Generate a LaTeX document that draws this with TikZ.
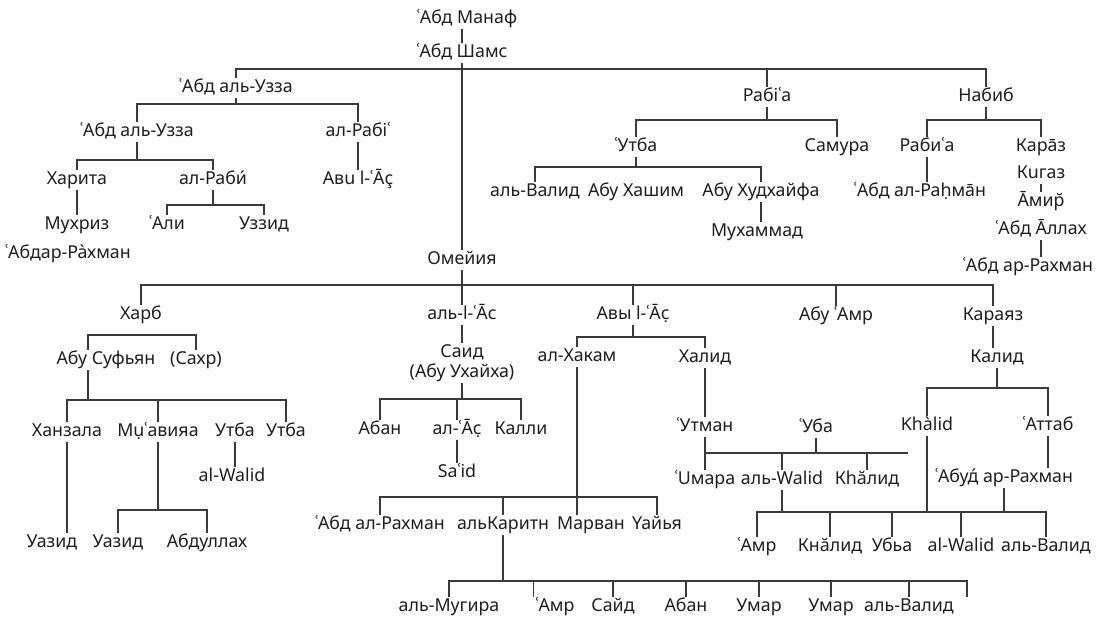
\documentclass[tikz,border=0pt]{standalone}
\usepackage{fontspec}
\setmainfont{Noto Sans}
\usetikzlibrary{positioning}
\definecolor{ink}{HTML}{1E1E1E}
\definecolor{wire}{HTML}{3A3A3A}

\begin{document}
\begin{tikzpicture}[x=1pt,y=-1pt,font=\fontsize{17.8}{20}\selectfont,
  every node/.style={text=ink,inner sep=1.5pt,text height=13pt,text depth=4pt},
  link/.style={draw=wire,line width=1.1pt}]
\useasboundingbox (0,0) rectangle (1110,621);

\node (manaf) at (467,19) {ʿАбд Манаф};
\node (shams) at (462,53) {ʿАбд Шамс};
\node (uzzaA) at (236,88) {ʿАбд аль-Узза};
\node (uzzaB) at (137,132) {ʿАбд аль-Узза};
\node (rabiA) at (358,132) {ал-Рабіʿ};
\node (abuAs) at (358,180) {Авu l-ʿĀç};
\node (harita) at (77,180) {Харита};
\node (rabiB) at (213,180) {ал-Раби́};
\node (muhriz) at (77,225) {Мухриз};
\node (ali) at (167,225) {ʿАли};
\node (uzzid) at (264,225) {Уззид};
\node (abdar) at (68,254) {ʿАбдар-Ра̀хман};

\node (rabia) at (767,97) {Рабіʿа};
\node (nabib) at (986,97) {Набиб};
\node (utba) at (636,147) {ʿУтба};
\node (samura) at (837,147) {Самура};
\node (rabiC) at (927,147) {Рабиʿа};
\node (karaz) at (1041,147) {Кара̄з};
\node (walidA) at (535,192) {аль-Валид};
\node (hashim) at (636,192) {Абу Хашим};
\node (hudh) at (761,192) {Абу Худхайфа};
\node (muham) at (757,232) {Мухаммад};
\node (rahmanA) at (920,192) {ʿАбд ал-Раḥма̄н};
\node (kugaz) at (1041,174) {Кuгаз};
\node (amir) at (1041,202) {А̄мир̆};
\node (allah) at (1041,230) {ʿАбд А̄ллах};
\node (rahmanB) at (1028,267) {ʿАбд ар-Рахман};

\node (omeya) at (462,260) {Омейия};
\node (harb) at (141,315) {Харб};
\node (alAs) at (462,315) {аль-l-ʿĀс};
\node (avy) at (633,315) {Авы l-ʿĀc̣};
\node (abuamr) at (836,316) {Абу ʿАмр};
\node (karayaz) at (993,316) {Караяз};
\node (sufyan) at (106,360) {Абу Суфьян};
\node (sakhr) at (196,360) {(Сахр)};
\node (said) at (462,363) [align=center,text height=,text depth=] {Саид\\(Абу Ухайха)};
\node (hakam) at (577,357) {ал-Хакам};
\node (khalidA) at (705,358) {Халид};
\node (kalid) at (997,358) {Калид};

\node (hanz) at (67,432) {Ханзала};
\node (muaw) at (158,432) {Мụʿавияа};
\node (utbaB) at (235,432) {Утба};
\node (utbaC) at (286,432) {Утба};
\node (walidB) at (232,477) {al-Walid};
\node (uazidA) at (52,543) {Уазид};
\node (uazidB) at (118,543) {Уазид};
\node (abdul) at (207,543) {Абдуллах};
\node (aban) at (380,430) {Абан};
\node (alAsB) at (457,430) {ал-ʿĀc̣};
\node (kalli) at (521,430) {Калли};
\node (sayidB) at (457,473) {Saʿid};
\node (uthman) at (705,427) {ʿУтман};
\node (uba) at (816,428) {ʿУба};
\node (khalidB) at (927,426) {Khàlid};
\node (attab) at (1048,426) {ʿАттаб};
\node (umara) at (705,480) {ʿUмара};
\node (walidUm) at (782,480) {аль-Walid};
\node (khalidD) at (867,480) {Кhӑлид};
\node (abudr) at (1004,478) {ʿАбуд́ ар-Рахман};

\node (abdrahC) at (380,525) {ʿАбд ал-Рахман};
\node (karitn) at (503,525) {альКаритн};
\node (marvan) at (591,525) {Марван};
\node (uayya) at (657,525) {Үайья};
\node (amrB) at (757,547) {ʿАмр};
\node (khalidC) at (830,547) {Кнăлид};
\node (ubba) at (892,547) {Уб{\bfseries ь}а};
\node (walidD) at (961,547) {al-Walid};
\node (walidE) at (1046,547) {аль-Валид};
\node (mugira) at (449,607) {аль-Мугира};
\node (amrA) at (555,607) {ʿАмр};
\node (saydA) at (613,607) {Сайд};
\node (abanB) at (686,607) {Абан};
\node (umarA) at (759,607) {Умар};
\node (umarB) at (831,607) {Умар};
\node (walidC) at (909,607) {аль-Валид};

\coordinate (sufN) at ([xshift=-18pt]sufyan.north);
\coordinate (sufS) at ([xshift=-18pt]sufyan.south);
\coordinate (barEnd) at (908,453);
\coordinate (tail) at (967,597);

\draw[link] (shams.north) -- (shams.north |- manaf.south);
\draw[link] (shams.south) -- (shams.south |- omeya.north);
\draw[link] (uzzaA.north) |- (nabib.north |- 0,69) -- (nabib.north);
\draw[link] (rabia.north) -- (rabia.north |- 0,69);
\draw[link] (uzzaA.south) -- (uzzaA.south |- 0,104);
\draw[link] (uzzaB.north) |- (rabiA.north |- 0,104) -- (rabiA.north);
\draw[link] (rabiA) -- (abuAs);
\draw[link] (uzzaB.south) -- (uzzaB.south |- 0,160);
\draw[link] (harita.north) |- (rabiB.north |- 0,160) -- (rabiB.north);
\draw[link] (harita) -- (muhriz);
\draw[link] (rabiB.south) -- (rabiB.south |- 0,205);
\draw[link] (ali.north) |- (uzzid.north |- 0,205) -- (uzzid.north);

\draw[link] (rabia.south) -- (rabia.south |- 0,120);
\draw[link] (utba.north) |- (samura.north |- 0,120) -- (samura.north);
\draw[link] (nabib.south) -- (nabib.south |- 0,120);
\draw[link] (rabiC.north) |- (karaz.north |- 0,120) -- (karaz.north);
\draw[link] (utba.south) -- (utba.south |- 0,167);
\draw[link] (walidA.north) |- (hudh.north |- 0,167) -- (hudh.north);
\draw[link] (hudh.south) -- (hudh.south |- muham.north);
\draw[link] (rabiC.south) -- (rabiC.south |- rahmanA.north);
\draw[link] (kugaz) -- (amir);
\draw[link] (allah.south) -- (allah.south |- rahmanB.north);

\draw[link] (omeya.south) -- (alAs.north);
\draw[link] (harb.north) |- (karayaz.north |- 0,285) -- (karayaz.north);
\draw[link] (avy.north) -- (avy.north |- 0,285);
\draw[link] (abuamr.north) -- (abuamr.north |- 0,285);
\draw[link] (sufN) |- (sakhr.north |- 0,335) -- (sakhr.north);
\draw[link] (sufS) -- (sufS |- 0,400);
\draw[link] (hanz.north) |- (utbaC.north |- 0,400) -- (utbaC.north);
\draw[link] (muaw.north) -- (muaw.north |- 0,400);
\draw[link] (utbaB.south) -- (utbaB.south |- walidB.north);
\draw[link] (hanz.south) -- (hanz.south |- uazidA.north);
\draw[link] (muaw.south) -- (muaw.south |- 0,510);
\draw[link] (uazidB.north) |- (abdul.north |- 0,510) -- (abdul.north);

\draw[link] (alAs.south) -- (alAs.south |- said.north);
\draw[link] (said.south) -- (said.south |- 0,399);
\draw[link] (aban.north) |- (kalli.north |- 0,399) -- (kalli.north);
\draw[link] (alAsB.north) -- (alAsB.north |- 0,399);
\draw[link] (alAsB) -- (sayidB);

\draw[link] (avy.south) -- (avy.south |- 0,337);
\draw[link] (hakam.north) |- (khalidA.north |- 0,337) -- (khalidA.north);
\draw[link] (hakam.south) -- (hakam.south |- marvan.north);
\draw[link] (abdrahC.north) |- (uayya.north |- 0,497) -- (uayya.north);
\draw[link] (karitn.north) -- (karitn.north |- 0,497);
\draw[link] (karitn.south) -- (karitn.south |- 0,581);
\draw[link] (mugira.north) |- (tail |- 0,581) -- (tail);
\draw[link] (amrA.north west) -- (amrA.north west |- 0,581);
\draw[link] (saydA.north) -- (saydA.north |- 0,581);
\draw[link] (abanB.north) -- (abanB.north |- 0,581);
\draw[link] (umarA.north) -- (umarA.north |- 0,581);
\draw[link] (umarB.north) -- (umarB.north |- 0,581);
\draw[link] (walidC.north) -- (walidC.north |- 0,581);

\draw[link] (khalidA.south) -- (khalidA.south |- uthman.north);
\draw[link] (uthman.south) -- (uthman.south |- umara.north);
\draw[link] (uthman.south |- barEnd) -- (barEnd);
\draw[link] (uba.south) -- (uba.south |- barEnd);
\draw[link] (walidUm.north) -- (walidUm.north |- barEnd);
\draw[link] (khalidD.north) -- (khalidD.north |- barEnd);

\draw[link] (karayaz.south) -- (karayaz.south |- kalid.north);
\draw[link] (kalid.south) -- (kalid.south |- 0,388);
\draw[link] (khalidB.north) |- (attab.north |- 0,388) -- (attab.north);
\draw[link] (attab.south) -- (attab.south |- abudr.north);
\draw[link] (khalidB.south) -- (khalidB.south |- 0,512);
\draw[link] (abudr.south) -- (abudr.south |- 0,512);
\draw[link] (walidUm.south) -- (walidUm.south |- 0,512);
\draw[link] (amrB.north) |- (walidE.north |- 0,512) -- (walidE.north);
\draw[link] (khalidC.north) -- (khalidC.north |- 0,512);
\draw[link] (ubba.north) -- (ubba.north |- 0,512);
\draw[link] (walidD.north) -- (walidD.north |- 0,512);
\end{tikzpicture}
\end{document}
